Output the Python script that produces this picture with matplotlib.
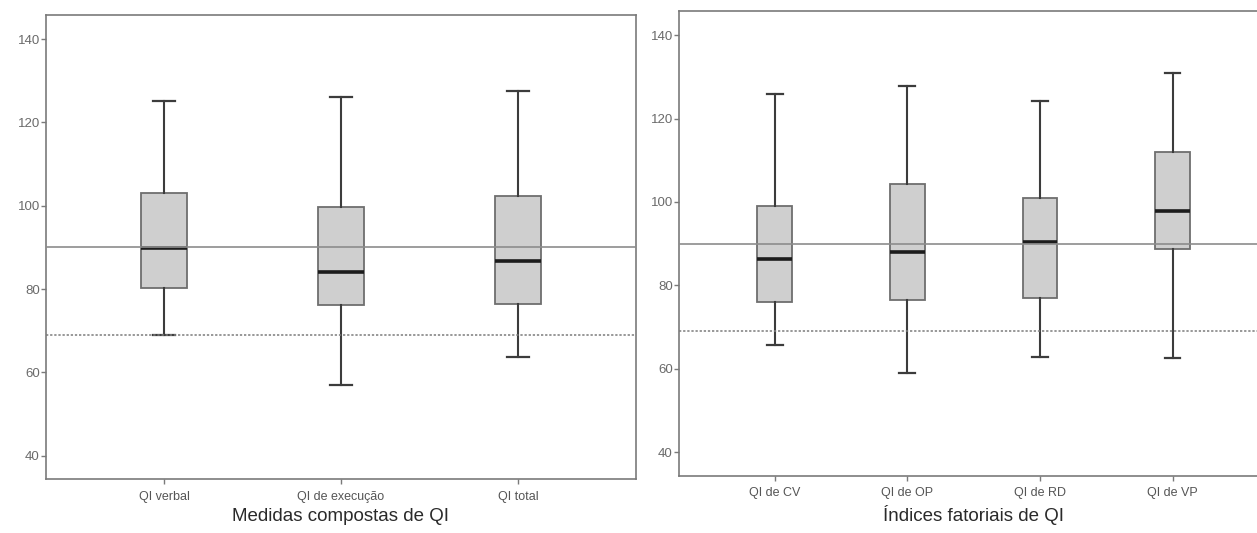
import matplotlib
matplotlib.use('Agg')
import matplotlib.pyplot as plt

plt.rcParams['font.family'] = ['Liberation Sans', 'DejaVu Sans']

# Medidas compostas de QI
comp_labels = ['QI verbal', 'QI de execução', 'QI total']
comp_low = [69.0, 56.9, 63.8]
comp_q1 = [80.2, 76.1, 76.5]
comp_med = [89.8, 84.0, 86.7]
comp_q3 = [103.0, 99.6, 102.4]
comp_high = [125.1, 126.0, 127.5]

# Índices fatoriais de QI
fat_labels = ['QI de CV', 'QI de OP', 'QI de RD', 'QI de VP']
fat_low = [65.8, 59.0, 62.8, 62.5]
fat_q1 = [76.0, 76.4, 77.0, 88.7]
fat_med = [86.4, 88.0, 90.3, 97.8]
fat_q3 = [99.0, 104.2, 101.0, 111.9]
fat_high = [125.9, 127.8, 124.3, 131.0]

ref_mean = 90
ref_cut = 69
yticks = [40, 60, 80, 100, 120, 140]

W, H = 1257, 533
fig = plt.figure(figsize=(W / 100, H / 100), dpi=100)

frame_col = '#7a7a7a'
tick_col = '#6a6a6a'


def make_stats(labels, low, q1, med, q3, high):
    stats = []
    for i in range(len(labels)):
        stats.append(dict(label=labels[i], whislo=low[i], q1=q1[i], med=med[i],
                          q3=q3[i], whishi=high[i], fliers=[]))
    return stats


def panel(rect, labels, low, q1, med, q3, high, xlabel, xlim):
    ax = fig.add_axes(rect)
    ax.axhline(ref_mean, color='#8c8c8c', lw=1.2, zorder=3)
    ax.axhline(ref_cut, color='#7c7c7c', lw=1.1, ls=(0, (1.5, 1.2)), zorder=3)
    st = make_stats(labels, low, q1, med, q3, high)
    n = len(labels)
    ax.bxp(st, positions=range(1, n + 1), widths=0.26, capwidths=0.12,
           patch_artist=True, showfliers=False,
           boxprops=dict(facecolor='#cfcfcf', edgecolor='#6e6e6e', lw=1.3),
           medianprops=dict(color='#1c1c1c', lw=2.6),
           whiskerprops=dict(color='#3c3c3c', lw=1.5),
           capprops=dict(color='#3c3c3c', lw=1.6),
           zorder=2)
    ax.set_xlim(*xlim)
    ax.set_ylim(34.4, 145.8)
    ax.set_yticks(yticks)
    ax.set_yticklabels([str(v) for v in yticks], fontsize=9.5, color=tick_col)
    ax.set_xticks(range(1, n + 1))
    ax.set_xticklabels(labels, fontsize=9, color='#555555')
    ax.tick_params(axis='both', length=3.5, width=1, color=frame_col, pad=1)
    ax.tick_params(axis='x', pad=5)
    for s in ax.spines.values():
        s.set_color(frame_col)
        s.set_linewidth(1.2)
    ax.set_xlabel(xlabel, fontsize=13.5, color='#2a2a2a', labelpad=4)
    return ax


panel([46 / W, (H - 479) / H, (636 - 46) / W, (479 - 15) / H],
      comp_labels, comp_low, comp_q1, comp_med, comp_q3, comp_high,
      'Medidas compostas de QI', (0.333, 3.667))

panel([679 / W, (H - 475.5) / H, (1268 - 679) / W, (475.5 - 11) / H],
      fat_labels, fat_low, fat_q1, fat_med, fat_q3, fat_high,
      'Índices fatoriais de QI', (0.278, 4.72))

fig.savefig('out.png', dpi=100)
